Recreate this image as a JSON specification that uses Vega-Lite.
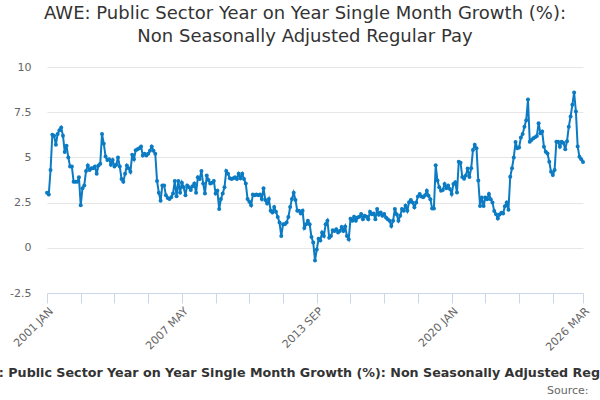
{
  "$schema": "https://vega.github.io/schema/vega-lite/v6.json",
  "width": 536,
  "height": 226,
  "autosize": {"type": "none"},
  "padding": {"left": 47, "top": 67, "right": 17, "bottom": 107},
  "background": "white",
  "config": {"view": {"stroke": null}},
  "title": {
    "text": ["AWE: Public Sector Year on Year Single Month Growth (%):", "Non Seasonally Adjusted Regular Pay"],
    "font": "DejaVu Sans",
    "fontSize": 18,
    "fontWeight": "normal",
    "color": "#333333",
    "lineHeight": 23,
    "anchor": "middle",
    "offset": 15,
    "dx": -10
  },
  "data": {
    "values": [
      {"m": "2001 JAN", "v": 3.05}, {"m": "2001 FEB", "v": 2.95}, {"m": "2001 MAR", "v": 4.3}, {"m": "2001 APR", "v": 6.25}, {"m": "2001 MAY", "v": 6.2}, {"m": "2001 JUN", "v": 5.7}, {"m": "2001 JUL", "v": 6.3}, {"m": "2001 AUG", "v": 6.5}, {"m": "2001 SEP", "v": 6.65}, {"m": "2001 OCT", "v": 6.2}, {"m": "2001 NOV", "v": 5.3}, {"m": "2001 DEC", "v": 5.65},
      {"m": "2002 JAN", "v": 5.0}, {"m": "2002 FEB", "v": 4.5}, {"m": "2002 MAR", "v": 4.5}, {"m": "2002 APR", "v": 3.65}, {"m": "2002 MAY", "v": 3.65}, {"m": "2002 JUN", "v": 3.65}, {"m": "2002 JUL", "v": 3.9}, {"m": "2002 AUG", "v": 2.35}, {"m": "2002 SEP", "v": 3.3}, {"m": "2002 OCT", "v": 3.45}, {"m": "2002 NOV", "v": 4.25}, {"m": "2002 DEC", "v": 4.55},
      {"m": "2003 JAN", "v": 4.3}, {"m": "2003 FEB", "v": 4.4}, {"m": "2003 MAR", "v": 4.4}, {"m": "2003 APR", "v": 4.5}, {"m": "2003 MAY", "v": 4.1}, {"m": "2003 JUN", "v": 4.55}, {"m": "2003 JUL", "v": 4.65}, {"m": "2003 AUG", "v": 6.3}, {"m": "2003 SEP", "v": 5.75}, {"m": "2003 OCT", "v": 5.05}, {"m": "2003 NOV", "v": 4.85}, {"m": "2003 DEC", "v": 4.9},
      {"m": "2004 JAN", "v": 4.6}, {"m": "2004 FEB", "v": 4.85}, {"m": "2004 MAR", "v": 4.5}, {"m": "2004 APR", "v": 4.6}, {"m": "2004 MAY", "v": 5.0}, {"m": "2004 JUN", "v": 4.5}, {"m": "2004 JUL", "v": 3.8}, {"m": "2004 AUG", "v": 3.65}, {"m": "2004 SEP", "v": 4.1}, {"m": "2004 OCT", "v": 4.55}, {"m": "2004 NOV", "v": 4.4}, {"m": "2004 DEC", "v": 4.2},
      {"m": "2005 JAN", "v": 5.15}, {"m": "2005 FEB", "v": 4.9}, {"m": "2005 MAR", "v": 5.4}, {"m": "2005 APR", "v": 5.45}, {"m": "2005 MAY", "v": 5.5}, {"m": "2005 JUN", "v": 5.6}, {"m": "2005 JUL", "v": 5.1}, {"m": "2005 AUG", "v": 5.2}, {"m": "2005 SEP", "v": 5.1}, {"m": "2005 OCT", "v": 5.2}, {"m": "2005 NOV", "v": 5.37}, {"m": "2005 DEC", "v": 5.6},
      {"m": "2006 JAN", "v": 5.37}, {"m": "2006 FEB", "v": 5.2}, {"m": "2006 MAR", "v": 3.7}, {"m": "2006 APR", "v": 3.05}, {"m": "2006 MAY", "v": 2.6}, {"m": "2006 JUN", "v": 3.45}, {"m": "2006 JUL", "v": 3.45}, {"m": "2006 AUG", "v": 2.9}, {"m": "2006 SEP", "v": 2.75}, {"m": "2006 OCT", "v": 2.7}, {"m": "2006 NOV", "v": 2.8}, {"m": "2006 DEC", "v": 3.0},
      {"m": "2007 JAN", "v": 3.7}, {"m": "2007 FEB", "v": 2.85}, {"m": "2007 MAR", "v": 3.7}, {"m": "2007 APR", "v": 3.05}, {"m": "2007 MAY", "v": 3.6}, {"m": "2007 JUN", "v": 3.35}, {"m": "2007 JUL", "v": 2.9}, {"m": "2007 AUG", "v": 3.45}, {"m": "2007 SEP", "v": 3.35}, {"m": "2007 OCT", "v": 3.2}, {"m": "2007 NOV", "v": 3.4}, {"m": "2007 DEC", "v": 3.55},
      {"m": "2008 JAN", "v": 3.05}, {"m": "2008 FEB", "v": 3.9}, {"m": "2008 MAR", "v": 3.8}, {"m": "2008 APR", "v": 4.25}, {"m": "2008 MAY", "v": 3.55}, {"m": "2008 JUN", "v": 3.0}, {"m": "2008 JUL", "v": 4.0}, {"m": "2008 AUG", "v": 3.75}, {"m": "2008 SEP", "v": 3.55}, {"m": "2008 OCT", "v": 3.6}, {"m": "2008 NOV", "v": 3.7}, {"m": "2008 DEC", "v": 3.0},
      {"m": "2009 JAN", "v": 3.15}, {"m": "2009 FEB", "v": 2.15}, {"m": "2009 MAR", "v": 2.7}, {"m": "2009 APR", "v": 3.0}, {"m": "2009 MAY", "v": 3.35}, {"m": "2009 JUN", "v": 4.25}, {"m": "2009 JUL", "v": 4.1}, {"m": "2009 AUG", "v": 3.85}, {"m": "2009 SEP", "v": 3.8}, {"m": "2009 OCT", "v": 3.85}, {"m": "2009 NOV", "v": 3.9}, {"m": "2009 DEC", "v": 3.8},
      {"m": "2010 JAN", "v": 4.1}, {"m": "2010 FEB", "v": 3.85}, {"m": "2010 MAR", "v": 4.1}, {"m": "2010 APR", "v": 3.8}, {"m": "2010 MAY", "v": 3.55}, {"m": "2010 JUN", "v": 2.7}, {"m": "2010 JUL", "v": 2.55}, {"m": "2010 AUG", "v": 2.35}, {"m": "2010 SEP", "v": 2.95}, {"m": "2010 OCT", "v": 2.9}, {"m": "2010 NOV", "v": 2.95}, {"m": "2010 DEC", "v": 2.9},
      {"m": "2011 JAN", "v": 2.95}, {"m": "2011 FEB", "v": 2.7}, {"m": "2011 MAR", "v": 3.3}, {"m": "2011 APR", "v": 2.65}, {"m": "2011 MAY", "v": 2.45}, {"m": "2011 JUN", "v": 2.7}, {"m": "2011 JUL", "v": 2.05}, {"m": "2011 AUG", "v": 1.95}, {"m": "2011 SEP", "v": 2.25}, {"m": "2011 OCT", "v": 2.0}, {"m": "2011 NOV", "v": 1.7}, {"m": "2011 DEC", "v": 1.4},
      {"m": "2012 JAN", "v": 0.65}, {"m": "2012 FEB", "v": 1.3}, {"m": "2012 MAR", "v": 1.3}, {"m": "2012 APR", "v": 1.4}, {"m": "2012 MAY", "v": 1.7}, {"m": "2012 JUN", "v": 2.25}, {"m": "2012 JUL", "v": 2.7}, {"m": "2012 AUG", "v": 3.05}, {"m": "2012 SEP", "v": 2.65}, {"m": "2012 OCT", "v": 2.05}, {"m": "2012 NOV", "v": 2.05}, {"m": "2012 DEC", "v": 1.9},
      {"m": "2013 JAN", "v": 2.05}, {"m": "2013 FEB", "v": 1.1}, {"m": "2013 MAR", "v": 1.3}, {"m": "2013 APR", "v": 1.5}, {"m": "2013 MAY", "v": 1.3}, {"m": "2013 JUN", "v": 0.6}, {"m": "2013 JUL", "v": 0.3}, {"m": "2013 AUG", "v": -0.7}, {"m": "2013 SEP", "v": -0.1}, {"m": "2013 OCT", "v": 0.5}, {"m": "2013 NOV", "v": 0.4}, {"m": "2013 DEC", "v": 0.85},
      {"m": "2014 JAN", "v": 0.65}, {"m": "2014 FEB", "v": 1.3}, {"m": "2014 MAR", "v": 1.5}, {"m": "2014 APR", "v": 0.56}, {"m": "2014 MAY", "v": 0.65}, {"m": "2014 JUN", "v": 0.97}, {"m": "2014 JUL", "v": 0.93}, {"m": "2014 AUG", "v": 1.03}, {"m": "2014 SEP", "v": 0.84}, {"m": "2014 OCT", "v": 0.93}, {"m": "2014 NOV", "v": 1.15}, {"m": "2014 DEC", "v": 0.93},
      {"m": "2015 JAN", "v": 1.18}, {"m": "2015 FEB", "v": 0.65}, {"m": "2015 MAR", "v": 0.47}, {"m": "2015 APR", "v": 1.6}, {"m": "2015 MAY", "v": 1.5}, {"m": "2015 JUN", "v": 1.72}, {"m": "2015 JUL", "v": 1.5}, {"m": "2015 AUG", "v": 1.68}, {"m": "2015 SEP", "v": 1.72}, {"m": "2015 OCT", "v": 1.87}, {"m": "2015 NOV", "v": 1.58}, {"m": "2015 DEC", "v": 1.77},
      {"m": "2016 JAN", "v": 1.72}, {"m": "2016 FEB", "v": 1.58}, {"m": "2016 MAR", "v": 2.0}, {"m": "2016 APR", "v": 1.85}, {"m": "2016 MAY", "v": 1.9}, {"m": "2016 JUN", "v": 1.58}, {"m": "2016 JUL", "v": 2.15}, {"m": "2016 AUG", "v": 1.83}, {"m": "2016 SEP", "v": 1.95}, {"m": "2016 OCT", "v": 1.77}, {"m": "2016 NOV", "v": 1.87}, {"m": "2016 DEC", "v": 1.68},
      {"m": "2017 JAN", "v": 1.58}, {"m": "2017 FEB", "v": 1.5}, {"m": "2017 MAR", "v": 1.2}, {"m": "2017 APR", "v": 1.5}, {"m": "2017 MAY", "v": 2.15}, {"m": "2017 JUN", "v": 1.85}, {"m": "2017 JUL", "v": 1.5}, {"m": "2017 AUG", "v": 1.77}, {"m": "2017 SEP", "v": 2.15}, {"m": "2017 OCT", "v": 2.05}, {"m": "2017 NOV", "v": 2.33}, {"m": "2017 DEC", "v": 2.05},
      {"m": "2018 JAN", "v": 2.52}, {"m": "2018 FEB", "v": 2.65}, {"m": "2018 MAR", "v": 2.5}, {"m": "2018 APR", "v": 2.24}, {"m": "2018 MAY", "v": 2.5}, {"m": "2018 JUN", "v": 2.84}, {"m": "2018 JUL", "v": 2.98}, {"m": "2018 AUG", "v": 2.84}, {"m": "2018 SEP", "v": 2.8}, {"m": "2018 OCT", "v": 2.9}, {"m": "2018 NOV", "v": 3.16}, {"m": "2018 DEC", "v": 2.88},
      {"m": "2019 JAN", "v": 2.69}, {"m": "2019 FEB", "v": 2.18}, {"m": "2019 MAR", "v": 2.18}, {"m": "2019 APR", "v": 4.57}, {"m": "2019 MAY", "v": 3.72}, {"m": "2019 JUN", "v": 3.35}, {"m": "2019 JUL", "v": 3.16}, {"m": "2019 AUG", "v": 3.2}, {"m": "2019 SEP", "v": 3.53}, {"m": "2019 OCT", "v": 3.3}, {"m": "2019 NOV", "v": 3.44}, {"m": "2019 DEC", "v": 3.25},
      {"m": "2020 JAN", "v": 2.97}, {"m": "2020 FEB", "v": 3.53}, {"m": "2020 MAR", "v": 3.63}, {"m": "2020 APR", "v": 3.06}, {"m": "2020 MAY", "v": 4.76}, {"m": "2020 JUN", "v": 4.7}, {"m": "2020 JUL", "v": 3.91}, {"m": "2020 AUG", "v": 3.82}, {"m": "2020 SEP", "v": 4.0}, {"m": "2020 OCT", "v": 4.38}, {"m": "2020 NOV", "v": 3.91}, {"m": "2020 DEC", "v": 4.4},
      {"m": "2021 JAN", "v": 5.41}, {"m": "2021 FEB", "v": 5.7}, {"m": "2021 MAR", "v": 5.5}, {"m": "2021 APR", "v": 3.72}, {"m": "2021 MAY", "v": 2.31}, {"m": "2021 JUN", "v": 2.78}, {"m": "2021 JUL", "v": 2.31}, {"m": "2021 AUG", "v": 2.78}, {"m": "2021 SEP", "v": 2.69}, {"m": "2021 OCT", "v": 2.97}, {"m": "2021 NOV", "v": 2.69}, {"m": "2021 DEC", "v": 2.5},
      {"m": "2022 JAN", "v": 2.03}, {"m": "2022 FEB", "v": 1.85}, {"m": "2022 MAR", "v": 1.62}, {"m": "2022 APR", "v": 1.84}, {"m": "2022 MAY", "v": 1.94}, {"m": "2022 JUN", "v": 1.9}, {"m": "2022 JUL", "v": 2.3}, {"m": "2022 AUG", "v": 2.5}, {"m": "2022 SEP", "v": 2.1}, {"m": "2022 OCT", "v": 3.93}, {"m": "2022 NOV", "v": 4.4}, {"m": "2022 DEC", "v": 5.0},
      {"m": "2023 JAN", "v": 5.85}, {"m": "2023 FEB", "v": 5.5}, {"m": "2023 MAR", "v": 5.55}, {"m": "2023 APR", "v": 6.1}, {"m": "2023 MAY", "v": 6.3}, {"m": "2023 JUN", "v": 6.7}, {"m": "2023 JUL", "v": 7.05}, {"m": "2023 AUG", "v": 8.2}, {"m": "2023 SEP", "v": 5.87}, {"m": "2023 OCT", "v": 5.96}, {"m": "2023 NOV", "v": 6.06}, {"m": "2023 DEC", "v": 6.11},
      {"m": "2024 JAN", "v": 6.19}, {"m": "2024 FEB", "v": 6.89}, {"m": "2024 MAR", "v": 6.33}, {"m": "2024 APR", "v": 6.43}, {"m": "2024 MAY", "v": 5.59}, {"m": "2024 JUN", "v": 5.31}, {"m": "2024 JUL", "v": 5.22}, {"m": "2024 AUG", "v": 4.76}, {"m": "2024 SEP", "v": 4.2}, {"m": "2024 OCT", "v": 4.02}, {"m": "2024 NOV", "v": 4.3}, {"m": "2024 DEC", "v": 5.87},
      {"m": "2025 JAN", "v": 5.87}, {"m": "2025 FEB", "v": 5.59}, {"m": "2025 MAR", "v": 5.87}, {"m": "2025 APR", "v": 5.8}, {"m": "2025 MAY", "v": 5.45}, {"m": "2025 JUN", "v": 5.9}, {"m": "2025 JUL", "v": 6.7}, {"m": "2025 AUG", "v": 7.26}, {"m": "2025 SEP", "v": 7.91}, {"m": "2025 OCT", "v": 8.59}, {"m": "2025 NOV", "v": 7.54}, {"m": "2025 DEC", "v": 5.6},
      {"m": "2026 JAN", "v": 5.04}, {"m": "2026 FEB", "v": 4.9}, {"m": "2026 MAR", "v": 4.75}
    ]
  },
  "encoding": {
    "y": {
      "field": "v",
      "type": "quantitative",
      "title": null,
      "scale": {"domain": [-2.5, 10], "nice": false, "zero": false},
      "axis": {
        "values": [-2.5, 0, 2.5, 5, 7.5, 10],
        "labelExpr": "'' + datum.value",
        "domain": false,
        "ticks": false,
        "grid": true,
        "gridColor": "#e6e6e6",
        "labelColor": "#666666",
        "labelFont": "DejaVu Sans",
        "labelFontSize": 11,
        "labelPadding": 16
      }
    }
  },
  "layer": [
    {
      "mark": {"type": "line", "color": "#0b7bc3", "strokeWidth": 2},
      "encoding": {
        "x": {
          "field": "m",
          "type": "ordinal",
          "sort": null,
          "scale": {"type": "point", "padding": 0},
          "axis": {
            "values": ["2001 JAN", "2002 AUG", "2004 MAR", "2005 OCT", "2007 MAY", "2008 DEC", "2010 JUL", "2012 FEB", "2013 SEP", "2015 APR", "2016 NOV", "2018 JUN", "2020 JAN", "2021 AUG", "2023 MAR", "2024 OCT", "2026 MAR"],
            "labelExpr": "indexof(['2001 JAN', '2007 MAY', '2013 SEP', '2020 JAN', '2026 MAR'], datum.value) >= 0 ? datum.value : ''",
            "labelAngle": -45,
            "labelAlign": "right",
            "labelBaseline": "top",
            "labelOverlap": false,
            "labelColor": "#666666",
            "labelFont": "DejaVu Sans",
            "labelFontSize": 11,
            "domainColor": "#ccd6eb",
            "tickColor": "#ccd6eb",
            "tickSize": 10,
            "grid": false,
            "title": "AWE: Public Sector Year on Year Single Month Growth (%): Non Seasonally Adjusted Regular Pay",
            "titleFont": "DejaVu Sans",
            "titleFontSize": 12.7,
            "titleFontWeight": "bold",
            "titleColor": "#333333",
            "titlePadding": 14,
            "titleX": 265,
            "titleAlign": "center"
          }
        }
      }
    },
    {
      "mark": {"type": "point", "filled": true, "color": "#0b7bc3", "size": 16, "opacity": 1},
      "encoding": {
        "x": {
          "field": "m",
          "type": "ordinal",
          "sort": null,
          "scale": {"type": "point", "padding": 0},
          "axis": {
            "orient": "bottom",
            "labels": false,
            "ticks": false,
            "domain": false,
            "grid": false,
            "title": "Source:",
            "titleFont": "DejaVu Sans",
            "titleFontSize": 11,
            "titleFontWeight": "normal",
            "titleColor": "#666666",
            "titleAnchor": "end",
            "titlePadding": 91,
            "titleX": 541,
            "titleAlign": "right"
          }
        }
      }
    }
  ],
  "resolve": {"axis": {"x": "independent"}}
}
